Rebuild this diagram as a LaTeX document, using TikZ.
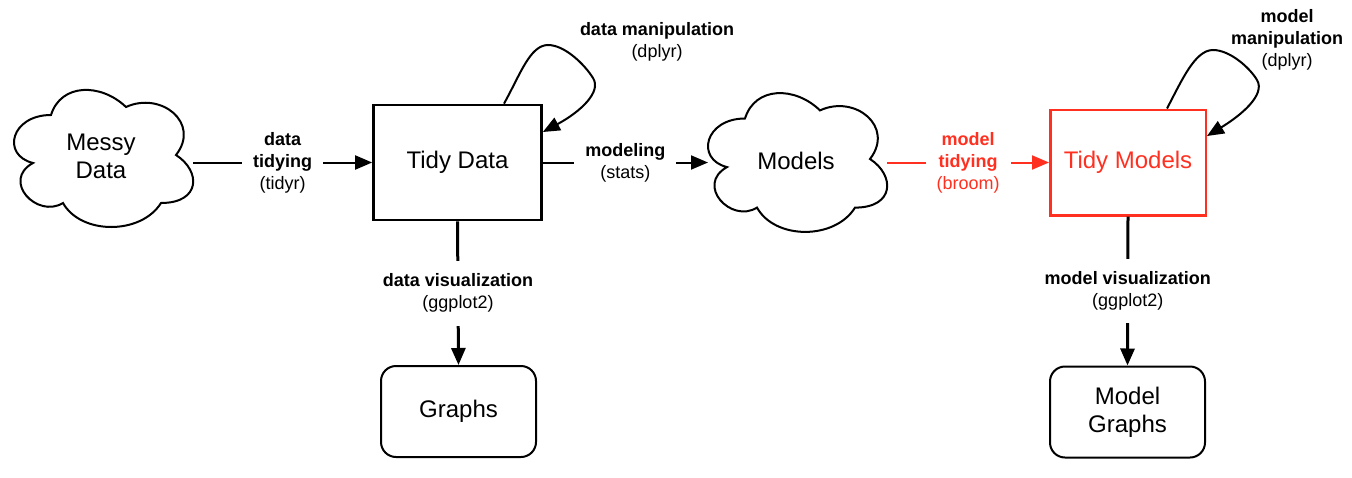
\documentclass[tikz,border=0pt]{standalone}
\usepackage{fontspec}
\setmainfont{Liberation Sans}
\usetikzlibrary{arrows.meta,calc}
\definecolor{tmred}{RGB}{255,48,32}
\begin{document}
\begin{tikzpicture}[x=1pt,y=-1pt,
  bigtext/.style={font=\fontsize{24}{28}\selectfont, align=center},
  plainbox/.style={draw, bigtext, inner sep=0pt},
  roundbox/.style={draw, line width=2pt, rounded corners=15pt, bigtext, inner sep=0pt, minimum width=155pt, minimum height=91pt},
  lbl/.style={fill=white, font=\fontsize{18}{22}\selectfont, align=center, inner xsep=11pt, inner ysep=4pt},
  vlbl/.style={lbl, inner ysep=13pt},
  tip/.style={-{Triangle[length=17pt,width=14pt]}},
  hedge/.style={line width=2pt, tip},
  vedge/.style={line width=3pt, tip},
  loopedge/.style={line width=2pt, tip},
  cloudline/.style={draw, line width=2pt},
  mxcloud/.pic={\draw[cloudline] (0.25,0.25) .. controls (0.05,0.25) and (0,0.5) .. (0.16,0.55)
     .. controls (0,0.66) and (0.18,0.9) .. (0.31,0.8)
     .. controls (0.4,1) and (0.7,1) .. (0.8,0.8)
     .. controls (1,0.8) and (1,0.6) .. (0.875,0.5)
     .. controls (1,0.3) and (0.8,0.1) .. (0.625,0.2)
     .. controls (0.5,0.05) and (0.3,0.05) .. (0.25,0.25) -- cycle;}
]
\useasboundingbox (0,0) rectangle (1352,477);

% clouds
\pic[shift={(1,75)}, xscale=200, yscale=160] {mxcloud};
\node[bigtext] (messy) at (101,156.5) {Messy\\Data};
\coordinate (messyE) at (193,162.5);

\pic[shift={(695,78)}, xscale=200, yscale=162] {mxcloud};
\node[bigtext] (models) at (796,161) {Models};
\coordinate (modelsW) at (708,162.5);
\coordinate (modelsE) at (887,162.5);

% boxes
\node[plainbox, line width=2.7pt, minimum width=168pt, minimum height=115pt] (tidy) at (457.5,162.5) {Tidy Data};
\node[plainbox, line width=2.5pt, draw=tmred, text=tmred, minimum width=155.5pt, minimum height=105.5pt] (tm) at (1128,162.5) {Tidy Models};
\node[roundbox] (graphs) at (458.5,411.5) {Graphs};
\node[roundbox] (mgraphs) at (1127.5,412) {Model\\Graphs};

% horizontal edges
\draw[hedge] (messyE) -- node[lbl] {\textbf{data}\\\textbf{tidying}\\(tidyr)} (tidy.west);
\draw[hedge] (tidy.east) -- node[lbl] {\textbf{modeling}\\(stats)} (modelsW);
\draw[hedge, draw=tmred, fill=tmred] (modelsE) -- node[lbl, text=tmred] {\textbf{model}\\\textbf{tidying}\\(broom)} (tm.west);

% vertical edges
\draw[vedge] (tidy.south) -- node[vlbl] {\textbf{data visualization}\\(ggplot2)} (graphs.north);
\draw[vedge] (tm.south) -- node[vlbl] {\textbf{model visualization}\\(ggplot2)} (mgraphs.north);

% self loops
\coordinate (tidyLoopS) at ([xshift=46.5pt]tidy.north);
\coordinate (tidyLoopE) at ([yshift=30.5pt]tidy.east);
\draw[loopedge] (tidyLoopS) .. controls (520,75) and (530,45) .. (548,45)
  .. controls (565,45) and (585,65) .. (593,78)
  .. controls (602,92) and (580,112) .. (tidyLoopE);
\node[font=\fontsize{18}{22}\selectfont, align=center] (dmlbl) at (657,42) {\textbf{data manipulation}\\(dplyr)};

\coordinate (tmLoopS) at ([xshift=39pt]tm.north);
\coordinate (tmLoopE) at ([yshift=26.5pt]tm.east);
\draw[loopedge] (tmLoopS) .. controls (1182,80) and (1195,50) .. (1213,50)
  .. controls (1230,50) and (1250,68) .. (1257,80)
  .. controls (1266,95) and (1240,116) .. (tmLoopE);
\node[font=\fontsize{18}{22}\selectfont, align=center] (mmlbl) at (1287,40) {\textbf{model}\\\textbf{manipulation}\\(dplyr)};
\end{tikzpicture}
\end{document}
